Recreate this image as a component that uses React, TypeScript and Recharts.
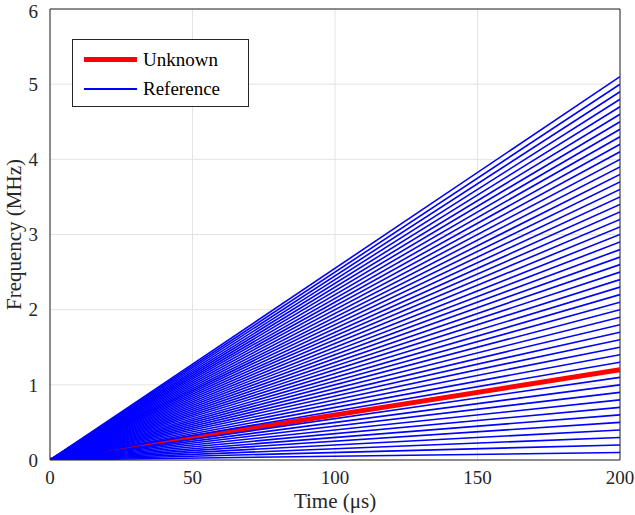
import { LineChart, Line, XAxis, YAxis, CartesianGrid, ReferenceLine, Label } from 'recharts';

// end frequency (MHz) at t = 200 µs for each reference chirp, all start at 0
const refEnds = [
  0.1, 0.2, 0.3, 0.4, 0.5, 0.6, 0.7, 0.8, 0.9, 1.0,
  1.1, 1.3, 1.4, 1.5, 1.6, 1.7, 1.8, 1.9, 2.0,
  2.1, 2.2, 2.3, 2.4, 2.5, 2.6, 2.7, 2.8, 2.9, 3.0,
  3.1, 3.2, 3.3, 3.4, 3.5, 3.6, 3.7, 3.8, 3.9, 4.0,
  4.1, 4.2, 4.3, 4.4, 4.5, 4.6, 4.7, 4.8, 4.9, 5.0,
  5.1,
];
const unknownEnd = 1.2;
const tStart = 0;
const tEnd = 200;

const xTicks = [0, 50, 100, 150, 200];
const yTicks = [0, 1, 2, 3, 4, 5, 6];

const FONT = '"Liberation Serif", "Times New Roman", serif';
const AX = '#262626';

const seg = (end: number) => [
  { t: tStart, f: 0 },
  { t: tEnd, f: end },
];

export default function App() {
  return (
    <div style={{ position: 'absolute', left: 0, top: 0, background: '#fff' }}>
      <div style={{ position: 'relative', width: 635, height: 515 }}>
        <LineChart
          width={635}
          height={515}
          margin={{ top: 9, right: 15, bottom: 0, left: 0 }}
          style={{ fontFamily: FONT }}
        >
          <CartesianGrid stroke="#e3e3e3" strokeWidth={1} />
          <XAxis
            dataKey="t"
            type="number"
            domain={[0, 200]}
            ticks={xTicks}
            height={55}
            tickLine={false}
            axisLine={{ stroke: AX }}
            tick={{ fill: AX, fontSize: 19, fontFamily: FONT }}
            tickMargin={5}
            allowDataOverflow
          >
            <Label value="Time (μs)" position="insideBottom" offset={7} style={{ fill: AX, fontSize: 21, fontFamily: FONT }} />
          </XAxis>
          <YAxis
            type="number"
            domain={[0, 6]}
            ticks={yTicks}
            width={50}
            tickLine={false}
            axisLine={{ stroke: AX }}
            tick={{ fill: AX, fontSize: 19, fontFamily: FONT }}
            tickMargin={6}
            allowDataOverflow
          >
            <Label value="Frequency (MHz)" angle={-90} position="insideLeft" offset={14} style={{ textAnchor: 'middle', fill: AX, fontSize: 21, fontFamily: FONT }} />
          </YAxis>
          <ReferenceLine y={6} stroke={AX} strokeWidth={1} />
          <ReferenceLine x={200} stroke={AX} strokeWidth={1} />
          <Line
            data={seg(unknownEnd)}
            dataKey="f"
            stroke="#ff0000"
            strokeWidth={5}
            dot={false}
            isAnimationActive={false}
          />
          {refEnds.map((e, i) => (
            <Line
              key={i}
              data={seg(e)}
              dataKey="f"
              stroke="#0000ff"
              strokeWidth={1.6}
              dot={false}
              isAnimationActive={false}
            />
          ))}
        </LineChart>
        <div style={s.legend}>
          <div style={s.row}>
            <span style={{ ...s.swatch, height: 5, background: '#ff0000' }} />
            <span>Unknown</span>
          </div>
          <div style={s.row}>
            <span style={{ ...s.swatch, height: 2, background: '#0000ff' }} />
            <span>Reference</span>
          </div>
        </div>
      </div>
    </div>
  );
}

const s: Record<string, React.CSSProperties> = {
  legend: {
    position: 'absolute',
    left: 72,
    top: 39,
    width: 177,
    height: 68,
    background: '#fff',
    border: '1px solid #262626',
    boxSizing: 'border-box',
    fontFamily: FONT,
    fontSize: 19,
    color: '#000',
    paddingTop: 5,
  },
  row: {
    display: 'flex',
    alignItems: 'center',
    height: 29,
  },
  swatch: {
    display: 'inline-block',
    width: 53,
    marginLeft: 11,
    marginRight: 6,
  },
};
